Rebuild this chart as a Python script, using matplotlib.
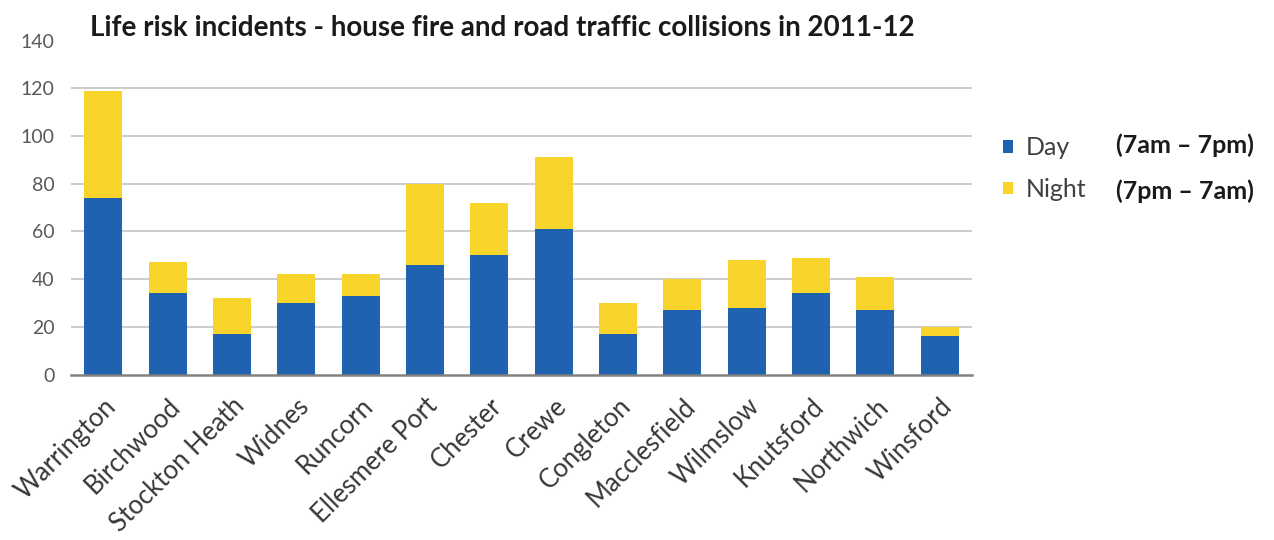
import matplotlib
matplotlib.use("Agg")
import matplotlib.pyplot as plt
from matplotlib.transforms import ScaledTranslation
import numpy as np

stations = ["Warrington", "Birchwood", "Stockton Heath", "Widnes", "Runcorn",
            "Ellesmere Port", "Chester", "Crewe", "Congleton", "Macclesfield",
            "Wilmslow", "Knutsford", "Northwich", "Winsford"]
day = [74, 34, 17, 30, 33, 46, 50, 61, 17, 27, 28, 34, 27, 16]
night = [45, 13, 15, 12, 9, 34, 22, 30, 13, 13, 20, 15, 14, 4]
yticks = [0, 20, 40, 60, 80, 100, 120, 140]

title = "Life risk incidents - house fire and road traffic collisions in 2011-12"
series_names = ["Day", "Night"]
series_notes = ["(7am \u2013 7pm)", "(7pm \u2013 7am)"]

BLUE = "#1F62B0"
YELLOW = "#F9D42A"

fig = plt.figure(figsize=(12.74, 5.40), dpi=100)
ax = fig.add_axes([71/1274, 1-374.5/540, (972-71)/1274, (374.5-40.6)/540])

x = np.arange(len(stations))
b1 = ax.bar(x, day, width=0.59, color=BLUE, zorder=3, label=series_names[0])
b2 = ax.bar(x, night, width=0.59, bottom=day, color=YELLOW, zorder=3, label=series_names[1])

ax.set_xlim(-0.5, len(stations) - 0.5)
ax.set_ylim(0, 140)
ax.set_yticks(yticks)
ax.set_yticklabels([str(v) for v in yticks], fontfamily="Lato", fontsize=14, color="#595959")
for v in yticks[1:-1]:
    ax.axhline(v, color="#C8C8C8", lw=1.3, zorder=1)

ax.set_xticks(x)
ax.set_xticklabels(stations, rotation=45, ha="right", va="center", rotation_mode="anchor",
                   fontfamily="Lato", fontsize=18.5, color="#383838")
ax.tick_params(axis="x", length=0, pad=20)
ax.tick_params(axis="y", length=0, pad=12)
shift = ScaledTranslation(9/100, 0, fig.dpi_scale_trans)
for lab in ax.get_xticklabels():
    lab.set_transform(lab.get_transform() + shift)

for s in ["top", "right", "left"]:
    ax.spines[s].set_visible(False)
ax.spines["bottom"].set_color("#808080")
ax.spines["bottom"].set_linewidth(1.8)
ax.spines["bottom"].set_zorder(4)

fig.text(90/1274, 1-28/540, title, fontfamily="Lato", fontweight="bold", fontsize=20,
         color="#1a1a1a", va="center", ha="left")

leg = fig.legend(handles=[b1, b2], labels=series_names, loc="center left",
                 bbox_to_anchor=(1003/1274, 1-168.5/540), frameon=False, borderpad=0,
                 borderaxespad=0,
                 handlelength=0.4, handleheight=0.4, handletextpad=0.5,
                 labelspacing=0.75, prop={"family": "Lato", "size": 18})
for t in leg.get_texts():
    t.set_color("#404040")

for i, note in enumerate(series_notes):
    fig.text(1116/1274, 1-(145 + 46*i)/540, note, fontfamily="Lato", fontweight="bold",
             fontsize=18, color="#1a1a1a", va="center", ha="left")

fig.savefig("out.png", dpi=100)
